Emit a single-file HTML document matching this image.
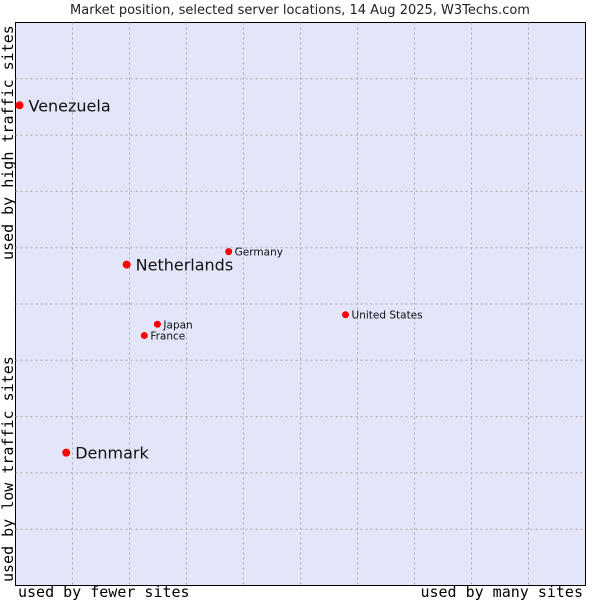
<!DOCTYPE html>
<html><head><meta charset="utf-8"><style>
body{margin:0;background:#fff;}
svg{display:block;}
</style></head><body>
<svg id="chart" width="600" height="600" xmlns="http://www.w3.org/2000/svg">
<text x="300" y="14" text-anchor="middle" font-family="DejaVu Sans, sans-serif" font-size="13" fill="#222">Market position, selected server locations, 14 Aug 2025, W3Techs.com</text>
<rect x="15.5" y="22.5" width="570" height="563" fill="#e3e5f8" stroke="#000" stroke-width="1"/>
<g id="grid"></g>
<g id="points"></g>
<text x="18" y="597" font-family="DejaVu Sans Mono, monospace" font-size="15" fill="#000">used by fewer sites</text>
<text x="583" y="597" text-anchor="end" font-family="DejaVu Sans Mono, monospace" font-size="15" fill="#000">used by many sites</text>
<text transform="translate(13,582) rotate(-90)" font-family="DejaVu Sans Mono, monospace" font-size="15" fill="#000">used by low traffic sites</text>
<text transform="translate(13,260) rotate(-90)" font-family="DejaVu Sans Mono, monospace" font-size="15" fill="#000">used by high traffic sites</text>
</svg>
<script>
const countries = ["Venezuela","Netherlands","Germany","United States","Japan","France","Denmark"];
const xValues = [0.7,19.5,37.4,57.9,24.9,22.6,8.9];
const yValues = [85.3,57.0,59.3,48.1,46.4,44.4,23.6];
const bigLabel = [true,true,false,false,false,false,true];
const gridTicks = [10,20,30,40,50,60,70,80,90];
const NS="http://www.w3.org/2000/svg";
const L=15.5,R=585.5,T=22.5,B=585.5;
function sx(v){return L+v/100*(R-L);}
function sy(v){return B-v/100*(B-T);}
const grid=document.getElementById('grid');
gridTicks.forEach(t=>{
  const v=document.createElementNS(NS,'line');
  v.setAttribute('x1',sx(t));v.setAttribute('x2',sx(t));v.setAttribute('y1',T);v.setAttribute('y2',B);
  v.setAttribute('stroke','#aaa');v.setAttribute('stroke-dasharray','2,3');
  
  
  grid.appendChild(v);
  const h=document.createElementNS(NS,'line');
  h.setAttribute('x1',L);h.setAttribute('x2',R);h.setAttribute('y1',sy(t));h.setAttribute('y2',sy(t));
  h.setAttribute('stroke','#aaa');h.setAttribute('stroke-dasharray','2,3');
  
  
  grid.appendChild(h);
});
const pts=document.getElementById('points');
countries.forEach((c,i)=>{
  const x=sx(xValues[i]),y=sy(yValues[i]);
  const m=document.createElementNS(NS,'circle');
  m.setAttribute('cx',x);m.setAttribute('cy',y);m.setAttribute('r',bigLabel[i]?4:3.5);m.setAttribute('fill','#f00');
  
  
  pts.appendChild(m);
  const t=document.createElementNS(NS,'text');
  t.setAttribute('x',x+(bigLabel[i]?9:6));t.setAttribute('y',y+(bigLabel[i]?6:4));
  t.setAttribute('font-family','DejaVu Sans, sans-serif');
  t.setAttribute('font-size',bigLabel[i]?'16':'10.5');
  t.setAttribute('fill','#111');
  t.textContent=c;
  
  
  pts.appendChild(t);
});
</script>
</body></html>
